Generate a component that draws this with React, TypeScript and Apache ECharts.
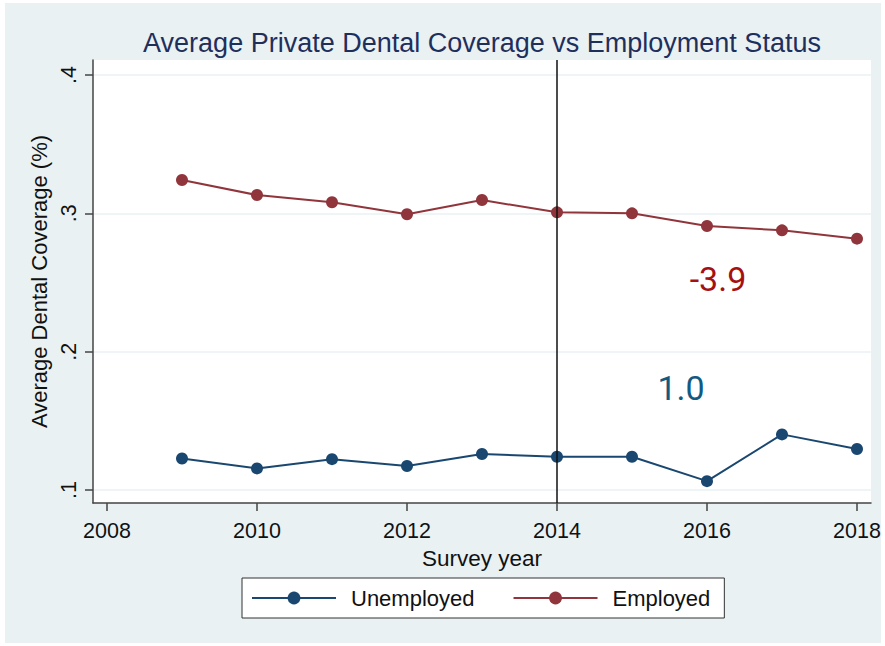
import React, { useEffect, useRef } from "react";
import * as echarts from "echarts";

const years = [2009, 2010, 2011, 2012, 2013, 2014, 2015, 2016, 2017, 2018];
const unemployed = [0.1228, 0.1156, 0.1223, 0.1173, 0.126, 0.124, 0.124, 0.1064, 0.1402, 0.1296];
const employed = [0.3241, 0.3132, 0.308, 0.2993, 0.3096, 0.3007, 0.3, 0.2908, 0.2877, 0.2817];
const xTicks = [2008, 2010, 2012, 2014, 2016, 2018];
const yTicks = [0.1, 0.2, 0.3, 0.4];
const policyYear = 2014;
const employedChange = "-3.9";
const unemployedChange = "1.0";

const BG = "#EAF1F3";
const NAVY = "#1A476F";
const MAROON = "#90353B";
const FONT = "Liberation Sans, Arial, sans-serif";

export default function App() {
  const ref = useRef<HTMLDivElement>(null);
  useEffect(() => {
    if (!ref.current) return;
    const chart = echarts.init(ref.current, undefined, { renderer: "svg" });
    const option: any = {
      animation: false,
      backgroundColor: "#ffffff",
      textStyle: { fontFamily: FONT },
      title: {
        text: "Average Private Dental Coverage vs Employment Status",
        left: 482,
        textAlign: "center",
        top: 29,
        padding: 0,
        textStyle: { fontFamily: FONT, fontSize: 27, fontWeight: "normal", color: "#1F2F5C" },
      },
      graphic: [
        {
          type: "rect",
          z: -10,
          silent: true,
          shape: { x: 5, y: 3, width: 876, height: 640 },
          style: { fill: BG },
        },
        {
          type: "text",
          x: 718,
          y: 279,
          z: 50,
          style: {
            text: employedChange,
            fontFamily: "Roboto",
            fontSize: 34,
            fill: "#A51111",
            align: "center",
            verticalAlign: "middle",
          },
        },
        {
          type: "text",
          x: 681,
          y: 388,
          z: 50,
          style: {
            text: unemployedChange,
            fontFamily: "Roboto",
            fontSize: 34,
            fill: "#135A82",
            align: "center",
            verticalAlign: "middle",
          },
        },
      ],
      grid: {
        left: 93,
        right: 14,
        top: 60,
        bottom: 143,
        show: true,
        backgroundColor: "#ffffff",
        borderWidth: 0,
      },
      legend: {
        data: ["Unemployed", "Employed"],
        left: 242,
        top: 578,
        orient: "horizontal",
        itemWidth: 84,
        itemHeight: 16,
        itemGap: 38,
        backgroundColor: "#ffffff",
        borderColor: "#333333",
        borderWidth: 1,
        borderRadius: 0,
        padding: [9, 14, 9, 9],
        textStyle: { fontFamily: FONT, fontSize: 22, color: "#111111", padding: [0, 0, 0, 10], lineHeight: 22 },
      },
      xAxis: {
        type: "value",
        min: 2007.8133,
        max: 2018.1867,
        name: "Survey year",
        nameLocation: "middle",
        nameGap: 40,
        nameTextStyle: { fontFamily: FONT, fontSize: 22.5, color: "#111111", verticalAlign: "top" },
        axisLine: { show: true, lineStyle: { color: "#444444", width: 1.5 } },
        axisTick: { show: true, length: 8, lineStyle: { color: "#444444", width: 1.5 }, customValues: xTicks },
        axisLabel: {
          fontFamily: FONT,
          fontSize: 21.5,
          color: "#111111",
          margin: 17,
          customValues: xTicks,
          formatter: (v: number) => String(Math.round(v)),
        },
        splitLine: { show: false },
      },
      yAxis: {
        type: "value",
        min: 0.0906,
        max: 0.41084,
        name: "Average Dental Coverage (%)",
        nameLocation: "middle",
        nameGap: 41,
        nameRotate: 90,
        nameTextStyle: { fontFamily: FONT, fontSize: 22, color: "#111111" },
        axisLine: { show: true, lineStyle: { color: "#444444", width: 1.5 } },
        axisTick: { show: true, length: 8, lineStyle: { color: "#444444", width: 1.5 }, customValues: yTicks },
        axisLabel: {
          fontFamily: FONT,
          fontSize: 21.5,
          color: "#111111",
          rotate: 90,
          margin: 13,
          customValues: yTicks,
          formatter: (v: number) => v.toFixed(1).replace(/^0/, ""),
        },
        splitLine: { show: true, lineStyle: { color: BG, width: 1.5 } },
      },
      series: [
        {
          name: "Unemployed",
          type: "line",
          data: years.map((y, i) => [y, unemployed[i]]),
          symbol: "circle",
          symbolSize: 12,
          color: NAVY,
          lineStyle: { color: NAVY, width: 2 },
          itemStyle: { color: NAVY },
          z: 3,
        },
        {
          name: "Employed",
          type: "line",
          data: years.map((y, i) => [y, employed[i]]),
          symbol: "circle",
          symbolSize: 12,
          color: MAROON,
          lineStyle: { color: MAROON, width: 2 },
          itemStyle: { color: MAROON },
          z: 3,
          markLine: {
            silent: true,
            symbol: "none",
            label: { show: false },
            lineStyle: { color: "#111111", width: 1.5, type: "solid" },
            data: [{ xAxis: policyYear }],
          },
        },
      ],
    };
    chart.setOption(option);
    return () => chart.dispose();
  }, []);
  return (
    <div
      ref={ref}
      style={{ position: "fixed", left: 0, top: 0, width: 885, height: 646 }}
    />
  );
}
